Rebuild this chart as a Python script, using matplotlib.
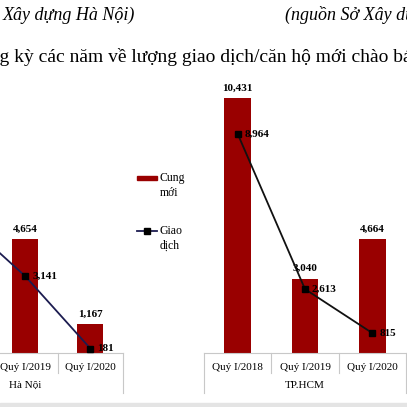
import matplotlib
matplotlib.use("Agg")
import matplotlib.pyplot as plt
from matplotlib.patches import Rectangle
from matplotlib.lines import Line2D

plt.rcParams['font.family'] = ['Liberation Serif', 'DejaVu Serif']

# data
quarters = ['Quý I/2018', 'Quý I/2019', 'Quý I/2020']
hn_supply = [6200, 4654, 1167]        # 2018 bar is cut off in the picture
hn_deals = [5560, 3141, 181]          # 2018 point estimated from line slope
hcm_supply = [10431, 3040, 4664]
hcm_deals = [8964, 2613, 815]

W = H = 407
BAR = '#990000'
GRID = '#c8c8c8'

fig = plt.figure(figsize=(4.07, 4.07), dpi=100)


def fx(x):
    return x / W


def fy(y):
    return 1 - y / H


def fig_text(x, y, s, **kw):
    fig.text(fx(x), fy(y), s, **kw)


# header lines (cropped from a wider page)
fig_text(3, 15, 'Xây dựng Hà Nội)', fontsize=13, style='italic', va='center')
fig_text(285, 15, '(nguồn Sở Xây dựng TP.HCM)', fontsize=13, style='italic', va='center')
fig_text(-33, 57, 'Cùng kỳ các năm về lượng giao dịch/căn hộ mới chào bán', fontsize=14, va='center')

ymax = 12000
base = 353
scale = 0.02445  # px per unit


def draw_group(left_px, right_px, supply, deals, name, line_color):
    h = ymax * scale
    ax = fig.add_axes([fx(left_px), fy(base), fx(right_px - left_px), h / H])
    x = range(len(quarters))
    ax.bar(x, supply, width=0.4, color=BAR, zorder=2)
    ax.plot(x, deals, color=line_color, lw=1.3, marker='s', ms=4,
            mfc='black', mec='black', zorder=3, clip_on=False)
    for i, v in enumerate(supply):
        ax.annotate(f'{v:,}', (i, v), xytext=(0, 4), textcoords='offset points',
                    ha='center', va='bottom', fontsize=8, fontweight='bold')
    for i, v in enumerate(deals):
        ax.annotate(f'{v:,}', (i, v), xytext=(5, 0), textcoords='offset points',
                    ha='left', va='center', fontsize=8, fontweight='bold')
    ax.set_xlim(-0.5, 2.5)
    ax.set_ylim(0, ymax)
    ax.set_yticks([])
    ax.set_xticks(list(x))
    ax.set_xticklabels(quarters, fontsize=8)
    ax.tick_params(axis='x', length=0, pad=7)
    for s in ['top', 'left', 'right']:
        ax.spines[s].set_visible(False)
    ax.spines['bottom'].set_color(GRID)
    ax.spines['bottom'].set_linewidth(0.8)
    tr = ax.get_xaxis_transform()
    short = -20 / h
    long_ = -40 / h
    for b in [0.5, 1.5]:
        ax.add_line(Line2D([b, b], [0, short], transform=tr, color=GRID, lw=0.8, clip_on=False))
    for b in [-0.5, 2.5]:
        ax.add_line(Line2D([b, b], [0, long_], transform=tr, color=GRID, lw=0.8, clip_on=False))
    ax.text(1, -32 / h, name, transform=tr, ha='center', va='center', fontsize=8)
    ax.patch.set_alpha(0)
    return ax


draw_group(-72.5, 123, hn_supply, hn_deals, 'Hà Nội', '#1c1c50')
draw_group(204, 406, hcm_supply, hcm_deals, 'TP.HCM', '#111111')

# legend of the left chart
fig.add_artist(Rectangle((fx(137), fy(180)), fx(20), 3.5 / H, color=BAR,
                         transform=fig.transFigure))
fig_text(160, 178, 'Cung', fontsize=8.5, va='center')
fig_text(160, 193, 'mới', fontsize=8.5, va='center')
fig.add_artist(Line2D([fx(137), fx(157)], [fy(231), fy(231)], color='#1c1c50', lw=1.3,
                      transform=fig.transFigure))
fig.add_artist(Line2D([fx(147)], [fy(231)], marker='s', ms=4, mfc='black', mec='black',
                      lw=0, transform=fig.transFigure))
fig_text(160, 231, 'Giao', fontsize=8.5, va='center')
fig_text(160, 246, 'dịch', fontsize=8.5, va='center')

# light gray strip at the bottom
fig.add_artist(Rectangle((0, 0), 1, 4 / H, color='#e4e4e4', transform=fig.transFigure))

fig.savefig('out.png', dpi=100)
